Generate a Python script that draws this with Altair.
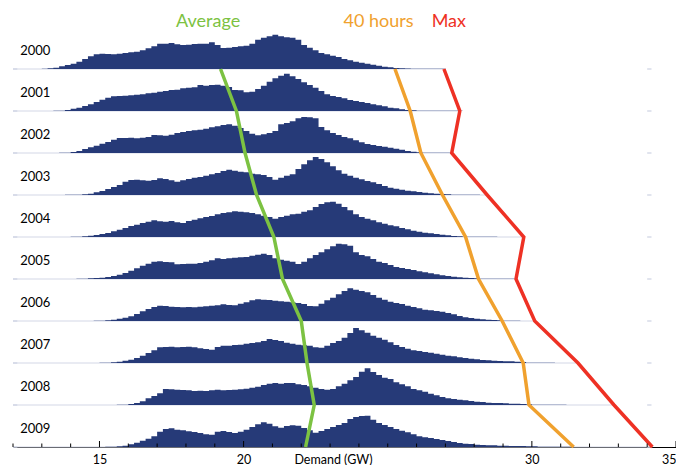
import altair as alt
import pandas as pd

years = [2000, 2001, 2002, 2003, 2004, 2005, 2006, 2007, 2008, 2009]
avg_gw = [19.2, 19.75, 20.05, 20.45, 21.05, 21.35, 22.0, 22.2, 22.45, 22.15]
h40_gw = [25.25, 25.78, 26.15, 26.9, 27.7, 28.15, 28.97, 29.7, 29.9, 31.45]
max_gw = [26.95, 27.5, 27.22, 28.45, 29.72, 29.45, 30.1, 31.6, 32.85, 34.18]

series_names = ["Average", "40 hours", "Max"]
series_colors = ["#7cc242", "#f0a12e", "#ee3124"]

# histogram of hourly demand, 0.2 GW bins, first bin start per year
bin_width = 0.2
hist_start = [13.0, 13.4, 13.6, 13.8, 14.0, 14.2, 14.8, 15.0, 15.4, 15.2]
hist_2000 = [1, 2, 4, 8, 12, 16, 22, 30, 38, 44, 46, 45, 44, 46, 48, 50, 52, 56, 62, 68,
             76, 76, 78, 74, 72, 73, 75, 76, 76, 80, 72, 63, 64, 66, 68, 70, 76, 88, 94, 98,
             103, 98, 95, 94, 88, 72, 64, 56, 48, 44, 40, 36, 30, 26, 22, 19, 16, 13, 10, 7,
             5, 3, 2, 1.5, 1, 0.5, 0.5, 0.5, 0.5, 0.5]
hist_2001 = [0.5, 1, 3, 7, 10, 15, 20, 27, 34, 40, 44, 45, 46, 47, 49, 50, 53, 55, 58, 60,
             63, 64, 68, 70, 71, 78, 76, 78, 79, 76, 72, 63, 62, 56, 58, 66, 76, 88, 98, 106,
             112, 104, 96, 86, 78, 70, 60, 50, 45, 42, 38, 33, 30, 27, 24, 20, 17, 14, 10, 8,
             5, 3, 2, 1, 0.5, 0.5, 0.5, 0.5, 0.5, 0.5, 0.5]
hist_2002 = [0.5, 1, 3, 6, 12, 17, 22, 28, 33, 40, 45, 45, 46, 44, 46, 48, 54, 53, 52, 55,
             60, 63, 66, 68, 70, 73, 77, 80, 84, 86, 82, 75, 66, 58, 53, 56, 60, 66, 86, 90,
             95, 104, 108, 107, 104, 78, 68, 60, 54, 48, 44, 38, 32, 27, 24, 21, 19, 16, 13, 10,
             6, 4, 2, 1, 0.5, 0.5, 0.5, 0.5]
hist_2003 = [0.5, 1, 1, 2, 4, 8, 12, 18, 24, 30, 40, 45, 46, 44, 43, 45, 50, 48, 44, 40,
             44, 48, 52, 54, 58, 62, 66, 72, 76, 73, 70, 68, 64, 62, 60, 54, 46, 52, 58, 62,
             78, 92, 104, 114, 108, 98, 86, 74, 64, 58, 52, 47, 42, 38, 33, 27, 22, 19, 16, 13,
             11, 9, 7, 5, 4, 3, 2, 1, 0.5, 0.5, 0.5, 0.5]
hist_2004 = [0.5, 1, 2, 4, 6, 9, 12, 17, 22, 27, 33, 37, 42, 46, 50, 47, 46, 48, 44, 42,
             48, 52, 56, 60, 63, 68, 72, 74, 77, 76, 74, 72, 68, 64, 60, 55, 60, 64, 68, 70,
             76, 80, 90, 99, 104, 106, 100, 90, 80, 68, 60, 55, 50, 44, 40, 35, 32, 27, 23, 19,
             16, 13, 11, 9, 7, 5, 3, 2, 1, 0.5, 0.5, 0.5, 0.5, 0.5]
hist_2005 = [0.5, 1, 2, 3, 4, 6, 9, 13, 18, 25, 32, 40, 46, 52, 53, 51, 50, 44, 45, 46,
             46, 48, 52, 56, 62, 60, 62, 64, 65, 66, 70, 73, 76, 72, 62, 58, 55, 52, 45, 52,
             62, 72, 80, 89, 98, 106, 104, 100, 80, 72, 68, 60, 52, 48, 42, 36, 33, 30, 27, 23,
             20, 17, 14, 11, 9, 7, 5, 4, 3, 2, 1, 0.5, 0.5, 0.5, 0.5, 0.5]
hist_2006 = [0.5, 1, 2, 4, 7, 10, 14, 21, 29, 36, 42, 46, 45, 43, 42, 41, 42, 41, 43, 44,
             46, 47, 50, 48, 47, 52, 56, 62, 65, 64, 63, 61, 59, 58, 56, 54, 51, 45, 44, 52,
             62, 70, 80, 90, 98, 94, 90, 86, 78, 70, 64, 58, 54, 51, 46, 42, 38, 34, 32, 30,
             28, 24, 20, 15, 11, 9, 7, 5, 4, 3, 2, 1, 0.5, 0.5]
hist_2007 = [0.5, 1, 2, 4, 7, 10, 15, 22, 30, 38, 47, 48, 49, 47, 48, 49, 47, 44, 42, 40,
             48, 52, 52, 54, 55, 58, 60, 62, 66, 72, 69, 66, 61, 58, 55, 53, 52, 47, 46, 52,
             60, 66, 76, 90, 105, 98, 91, 82, 76, 70, 62, 54, 48, 43, 38, 36, 33, 31, 28, 25,
             22, 20, 17, 15, 13, 11, 9, 8, 7, 6, 5, 5, 4, 3, 1, 0.5, 0.5, 0.5, 0.5]
hist_2008 = [0.3, 0.5, 1, 3, 6, 11, 20, 27, 35, 48, 47, 46, 45, 44, 42, 43, 42, 44, 46, 44,
             45, 46, 47, 49, 52, 55, 60, 64, 66, 64, 66, 66, 62, 60, 56, 52, 48, 46, 48, 56,
             64, 74, 84, 100, 110, 99, 90, 82, 78, 68, 62, 56, 48, 44, 40, 34, 29, 24, 20, 18,
             16, 14, 12, 10, 9, 7, 6, 6, 5, 4, 4, 3, 2, 1, 0.5, 0.5, 0.5, 0.5, 0.5]
hist_2009 = [0.5, 1, 2, 4, 8, 13, 19, 25, 32, 46, 54, 56, 52, 50, 47, 45, 42, 38, 37, 46,
             48, 45, 42, 46, 52, 60, 68, 74, 70, 62, 58, 63, 65, 64, 57, 50, 43, 48, 54, 60,
             66, 72, 84, 90, 93, 94, 82, 72, 66, 60, 54, 49, 44, 38, 32, 29, 27, 24, 21, 18,
             15, 12, 10, 9, 7, 6, 5, 5, 4, 4, 3, 3, 3, 2, 2, 1, 0.5, 0.5, 0.5, 0.5, 0.5]
hists = [hist_2000, hist_2001, hist_2002, hist_2003, hist_2004,
         hist_2005, hist_2006, hist_2007, hist_2008, hist_2009]

axis_labels = [15, 20, 30, 35]
tick_values = list(range(12, 36))

# ---------------------------------------------------------------- layout
ROW_GAP = 42          # px between row baselines
UNIT = 1 / 3          # px per histogram unit
W, H = 663, 439
NAVY = "#263a78"
FONT = "Lato"

def base_of(i):
    return (len(years) - 1 - i) * ROW_GAP

hist_rows = []
for i, (yr, s, hs) in enumerate(zip(years, hist_start, hists)):
    b = base_of(i)
    for j, h in enumerate(hs):
        hist_rows.append({"year": yr, "x": round(s + j * bin_width, 3), "base": b, "top": b + h * UNIT})
    hist_rows.append({"year": yr, "x": round(s + len(hs) * bin_width, 3), "base": b, "top": b})
hist_df = pd.DataFrame(hist_rows)

line_rows = []
for k, (name, vals) in enumerate(zip(series_names, [avg_gw, h40_gw, max_gw])):
    for i, v in enumerate(vals):
        line_rows.append({"series": name, "row": i, "gw": v, "base": base_of(i)})
line_df = pd.DataFrame(line_rows)

base_df = pd.DataFrame({"year": years, "x0": [12.0] * len(years), "x1": max_gw,
                        "base": [base_of(i) for i in range(len(years))]})
dot_df = pd.DataFrame({"x0": [12.0] * len(years) + [34.0] * len(years),
                       "x1": [12.15] * len(years) + [34.15] * len(years),
                       "base": [base_of(i) for i in range(len(years))] * 2})

year_df = pd.DataFrame({"year": [str(y) for y in years], "x": [12.25] * len(years),
                        "y": [base_of(i) + 18.5 for i in range(len(years))]})

title_df = pd.DataFrame({"series": series_names, "x": [18.77, 24.68, 27.12], "y": [425] * 3})

tick_df = pd.DataFrame({"v": tick_values,
                        "len": [6 if v in axis_labels else 3.5 for v in tick_values],
                        "zero": [0] * len(tick_values)})

xs = alt.Scale(domain=[12, 35], nice=False, zero=False)
ys = alt.Scale(domain=[0, H], nice=False, zero=False)
cs = alt.Scale(domain=series_names, range=series_colors)

x_axis = alt.Axis(values=axis_labels, ticks=False, tickSize=0, grid=False,
                  domainColor="#000000", domainWidth=1,
                  labelFont=FONT, labelFontSize=12.5, labelColor="#000000",
                  labelPadding=6, labelBaseline="top", labelFlush=True,
                  title="Demand (GW)", titleFont=FONT, titleFontSize=12.5,
                  titleFontWeight="normal", titleColor="#000000",
                  titleX=320, titleY=6, titleAlign="center", titleBaseline="top")

baselines = alt.Chart(base_df).mark_rule(color="#d3d7e6", strokeWidth=1).encode(
    x=alt.X("x0:Q", scale=xs, axis=x_axis), x2="x1:Q",
    y=alt.Y("base:Q", scale=ys, axis=None))

dots = alt.Chart(dot_df).mark_rule(color="#cdd2e3", strokeWidth=1.2).encode(
    x=alt.X("x0:Q", scale=xs), x2="x1:Q", y=alt.Y("base:Q", scale=ys))

areas = alt.Chart(hist_df).mark_area(interpolate="step-after", color=NAVY, orient="vertical").encode(
    x=alt.X("x:Q", scale=xs),
    y=alt.Y("top:Q", scale=ys),
    y2="base:Q",
    detail="year:N")

lines = alt.Chart(line_df).mark_line(strokeWidth=3.5, strokeJoin="miter").encode(
    x=alt.X("gw:Q", scale=xs),
    y=alt.Y("base:Q", scale=ys),
    color=alt.Color("series:N", scale=cs, legend=None),
    order="row:Q",
    detail="series:N")

year_text = alt.Chart(year_df).mark_text(font=FONT, fontSize=13, align="left", baseline="middle",
                                         color="#000000").encode(
    x=alt.X("x:Q", scale=xs), y=alt.Y("y:Q", scale=ys), text="year:N")

titles = alt.Chart(title_df).mark_text(font=FONT, fontSize=18, align="center", baseline="middle").encode(
    x=alt.X("x:Q", scale=xs), y=alt.Y("y:Q", scale=ys), text="series:N",
    color=alt.Color("series:N", scale=cs, legend=None))

ticks = alt.Chart(tick_df).mark_rule(color="#000000", strokeWidth=1).encode(
    x=alt.X("v:Q", scale=xs), y=alt.Y("zero:Q", scale=ys), y2="len:Q")

chart = alt.layer(baselines, dots, areas, lines, ticks, year_text, titles).properties(
    width=W, height=H,
    autosize=alt.AutoSizeParams(type="none"),
    padding={"left": 5, "top": 0, "right": 0, "bottom": 18},
    background="#ffffff",
).configure_view(stroke=None)

chart.save("out.html", embed_options={"renderer": "svg", "actions": False})
